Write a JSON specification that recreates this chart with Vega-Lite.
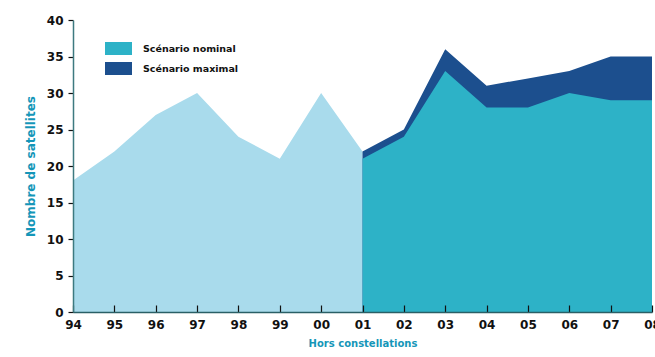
{
  "$schema": "https://vega.github.io/schema/vega-lite/v6.json",
  "width": 579,
  "height": 292,
  "autosize": {"type": "none"},
  "padding": {"left": 73, "top": 20, "right": 3, "bottom": 45},
  "background": "white",
  "config": {
    "view": {"stroke": null},
    "font": "DejaVu Sans"
  },
  "data": {
    "values": [
      {"year": 1994, "scenario": "Historique", "value": 18},
      {"year": 1995, "scenario": "Historique", "value": 22},
      {"year": 1996, "scenario": "Historique", "value": 27},
      {"year": 1997, "scenario": "Historique", "value": 30},
      {"year": 1998, "scenario": "Historique", "value": 24},
      {"year": 1999, "scenario": "Historique", "value": 21},
      {"year": 2000, "scenario": "Historique", "value": 30},
      {"year": 2001, "scenario": "Historique", "value": 22},
      {"year": 2001, "scenario": "Scénario maximal", "value": 22},
      {"year": 2002, "scenario": "Scénario maximal", "value": 25},
      {"year": 2003, "scenario": "Scénario maximal", "value": 36},
      {"year": 2004, "scenario": "Scénario maximal", "value": 31},
      {"year": 2005, "scenario": "Scénario maximal", "value": 32},
      {"year": 2006, "scenario": "Scénario maximal", "value": 33},
      {"year": 2007, "scenario": "Scénario maximal", "value": 35},
      {"year": 2008, "scenario": "Scénario maximal", "value": 35},
      {"year": 2001, "scenario": "Scénario nominal", "value": 21},
      {"year": 2002, "scenario": "Scénario nominal", "value": 24},
      {"year": 2003, "scenario": "Scénario nominal", "value": 33},
      {"year": 2004, "scenario": "Scénario nominal", "value": 28},
      {"year": 2005, "scenario": "Scénario nominal", "value": 28},
      {"year": 2006, "scenario": "Scénario nominal", "value": 30},
      {"year": 2007, "scenario": "Scénario nominal", "value": 29},
      {"year": 2008, "scenario": "Scénario nominal", "value": 29}
    ]
  },
  "encoding": {
    "x": {
      "field": "year",
      "type": "quantitative",
      "scale": {"domain": [1994, 2008], "nice": false, "zero": false},
      "axis": {
        "zindex": 1,
        "title": "Hors constellations",
        "titleFont": "DejaVu Sans",
        "titleFontSize": 10,
        "titleFontWeight": "bold",
        "titleColor": "#1596b8",
        "titlePadding": 8,
        "values": [1994, 1995, 1996, 1997, 1998, 1999, 2000, 2001, 2002, 2003, 2004, 2005, 2006, 2007, 2008],
        "labelExpr": "substring(toString(datum.value), 2)",
        "labelFont": "DejaVu Sans",
        "labelFontSize": 12,
        "labelFontWeight": "bold",
        "labelColor": "#111111",
        "labelFlush": false,
        "labelOverlap": false,
        "labelPadding": 14,
        "tickSize": -7,
        "tickColor": "#111111",
        "tickWidth": 1.2,
        "domainColor": "#2a5f66",
        "domainWidth": 1.5,
        "grid": false
      }
    },
    "y": {
      "field": "value",
      "type": "quantitative",
      "scale": {"domain": [0, 40], "nice": false},
      "axis": {
        "zindex": 1,
        "title": "Nombre de satellites",
        "titleFont": "DejaVu Sans",
        "titleFontSize": 12,
        "titleFontWeight": "bold",
        "titleColor": "#1596b8",
        "titlePadding": 9,
        "values": [0, 5, 10, 15, 20, 25, 30, 35, 40],
        "labelFont": "DejaVu Sans",
        "labelFontSize": 12,
        "labelFontWeight": "bold",
        "labelColor": "#111111",
        "labelPadding": 5,
        "tickSize": 5,
        "tickColor": "#111111",
        "tickWidth": 1.2,
        "domainColor": "#3d7a80",
        "domainWidth": 1.5,
        "grid": false
      }
    },
    "color": {
      "field": "scenario",
      "type": "nominal",
      "scale": {
        "domain": ["Scénario nominal", "Scénario maximal", "Historique"],
        "range": ["#2db2c7", "#1c4f8e", "#a9dbec"]
      },
      "legend": {
        "title": null,
        "values": ["Scénario nominal", "Scénario maximal"],
        "orient": "none",
        "legendX": 32,
        "legendY": 15,
        "padding": 0,
        "symbolType": "M-1,-0.48H1V0.48H-1Z",
        "symbolSize": 729,
        "symbolStrokeWidth": 0,
        "symbolOpacity": 1,
        "rowPadding": -7,
        "labelOffset": 11,
        "labelFont": "DejaVu Sans",
        "labelFontSize": 9.5,
        "labelFontWeight": "bold",
        "labelColor": "#111111"
      }
    }
  },
  "layer": [
    {
      "transform": [{"filter": "datum.scenario === 'Historique'"}],
      "mark": {"type": "area", "opacity": 1, "interpolate": "linear"}
    },
    {
      "transform": [{"filter": "datum.scenario === 'Scénario maximal'"}],
      "mark": {"type": "area", "opacity": 1, "interpolate": "linear"}
    },
    {
      "transform": [{"filter": "datum.scenario === 'Scénario nominal'"}],
      "mark": {"type": "area", "opacity": 1, "interpolate": "linear"}
    }
  ]
}
